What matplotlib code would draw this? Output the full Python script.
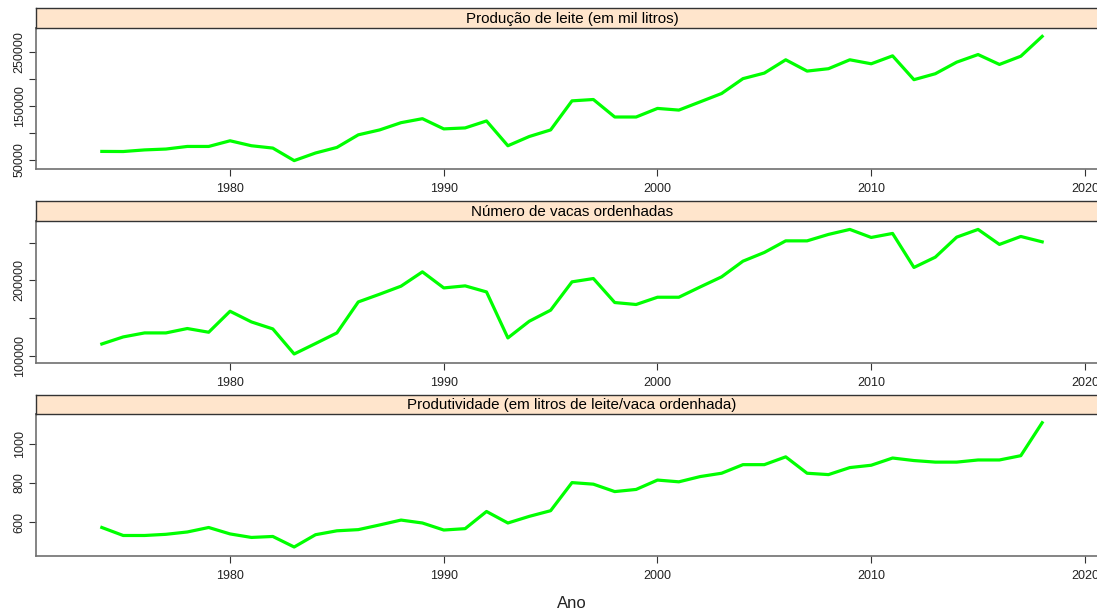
import numpy as np
import matplotlib
matplotlib.use('Agg')
import matplotlib.pyplot as plt

plt.rcParams['font.family'] = ['Liberation Sans', 'DejaVu Sans']

anos = list(range(1974, 2019))

producao = [65200, 65000, 68000, 69600, 74400, 74400, 84900, 75700, 71400, 48200,
            62300, 72600, 95900, 105000, 118400, 125800, 106900, 108700, 121600, 75700,
            92800, 105000, 158800, 161300, 128900, 128900, 144800, 141700, 157000, 172400,
            199900, 210200, 234800, 213900, 218300, 234800, 227400, 242100, 198000, 209000,
            230400, 244500, 226200, 241400, 278100]

vacas = [116200, 125500, 130800, 130800, 136600, 131700, 159400, 145300, 136100, 103000,
         116800, 130800, 171700, 181900, 192500, 211400, 190200, 192900, 184900, 124200,
         146200, 160800, 198200, 202600, 170900, 168300, 177900, 177900, 191500, 204800,
         225500, 237000, 252300, 252300, 260800, 267400, 256800, 262100, 217200, 230800,
         257200, 267400, 247600, 258100, 251000]

produtividade = [572, 531, 531, 537, 549, 572, 539, 521, 526, 472,
                 535, 555, 561, 585, 610, 595, 559, 566, 654, 595,
                 629, 658, 802, 794, 756, 767, 815, 806, 833, 850,
                 894, 894, 934, 850, 843, 879, 891, 928, 915, 907,
                 907, 918, 918, 940, 1109]

titulos = ['Produção de leite (em mil litros)',
           'Número de vacas ordenhadas',
           'Produtividade (em litros de leite/vaca ordenhada)']
series = [producao, vacas, produtividade]
yticks = [[50000, 100000, 150000, 200000, 250000],
          [100000, 150000, 200000, 250000],
          [600, 800, 1000]]
ylabels = [['50000', '', '150000', '', '250000'],
           ['100000', '', '200000', ''],
           ['600', '800', '1000']]

W, H = 1097, 609
fig = plt.figure(figsize=(W / 100, H / 100), dpi=100)

# pixel layout (top of strip, bottom of strip, bottom of panel)
panels = [(8.3, 27.7, 169.3), (201, 220.7, 362.7), (394.7, 414, 555.7)]
left, right = 36, 1108
frame = '#707070'

for (ts, bs, bp), tit, y, yt, yl in zip(panels, titulos, series, yticks, ylabels):
    ax = fig.add_axes([left / W, (H - bp) / H, (right - left) / W, (bp - bs) / H])
    ax.plot(anos, y, color='#00FF00', lw=2.3, solid_joinstyle='round')
    ax.set_xlim(1974 - 0.07 * 44, 2018 + 0.07 * 44)
    lo, hi = min(y), max(y)
    r = hi - lo
    ax.set_ylim(lo - 0.07 * r, hi + 0.07 * r)
    ax.set_xticks([1980, 1990, 2000, 2010, 2020])
    ax.set_yticks(yt)
    ax.set_yticklabels(yl, rotation=90, va='center')
    ax.tick_params(direction='out', length=5, width=0.8, color='#333333',
                   labelsize=9, labelcolor='#222222')
    ax.tick_params(axis='x', pad=5)
    ax.tick_params(axis='y', pad=2.5)
    for s in ax.spines.values():
        s.set_color(frame)
        s.set_linewidth(1.2)

    sx = fig.add_axes([left / W, (H - bs) / H, (right - left) / W, (bs - ts) / H])
    sx.set_facecolor('#FFE5CC')
    sx.set_xticks([])
    sx.set_yticks([])
    for s in sx.spines.values():
        s.set_color('#333333')
        s.set_linewidth(1.0)
    sx.text(0.5, 0.45, tit, ha='center', va='center', fontsize=10.9, color='#000000',
            transform=sx.transAxes)

fig.text(572 / W, 1 - 603 / H, 'Ano', ha='center', va='center', fontsize=12, color='#222222')

fig.savefig('out.png', dpi=100)
